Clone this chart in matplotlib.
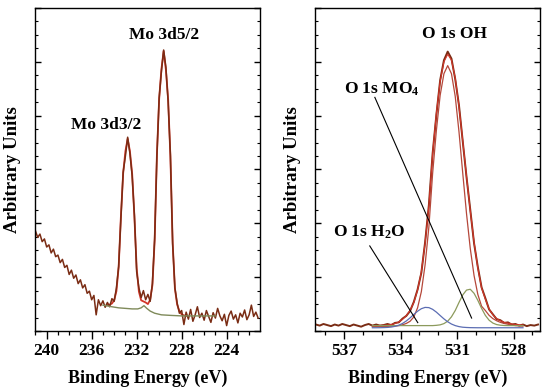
import numpy as np
import matplotlib
matplotlib.use("Agg")
import matplotlib.pyplot as plt
from matplotlib.ticker import MultipleLocator

plt.rcParams['font.family'] = ['Liberation Serif', 'DejaVu Serif']
plt.rcParams['font.weight'] = 'bold'
plt.rcParams['mathtext.default'] = 'regular'

# ---- Mo 3d spectrum (left panel) ----
mo_energy = np.round(np.arange(241.0, 221.1, -0.2), 1)
mo_counts = [1.86, 1.74, 1.80, 1.66, 1.71, 1.56, 1.60, 1.45, 1.52, 1.38,
             1.41, 1.27, 1.33, 1.18, 1.22, 1.05, 1.13, 0.98, 1.04, 0.88,
             0.95, 0.80, 0.86, 0.70, 0.74, 0.58, 0.66, 0.30, 0.58, 0.47,
             0.56, 0.44, 0.53, 0.45, 0.60, 0.55, 0.80, 1.20, 2.10, 2.95,
             3.25, 3.60, 3.30, 2.88, 2.15, 1.10, 0.80, 0.62, 0.75, 0.58,
             0.68, 0.55, 0.88, 1.72, 3.25, 4.33, 4.82, 5.22, 4.90, 4.25,
             3.27, 1.62, 0.80, 0.52, 0.33, 0.38, 0.12, 0.35, 0.22, 0.40,
             0.18, 0.30, 0.45, 0.25, 0.33, 0.20, 0.38, 0.27, 0.16, 0.34,
             0.24, 0.42, 0.28, 0.19, 0.31, 0.10, 0.29, 0.37, 0.22, 0.30,
             0.15, 0.33, 0.26, 0.39, 0.21, 0.30, 0.48, 0.27, 0.35, 0.24]

mo_fit_energy = np.round(np.arange(234.6, 227.5, -0.2), 1)
mo_fit = [0.48, 0.49, 0.51, 0.57, 0.74, 1.19, 2.13, 2.93, 3.34, 3.57,
          3.34, 2.92, 2.12, 1.17, 0.73, 0.57, 0.55, 0.53, 0.50, 0.58,
          0.85, 1.68, 3.27, 4.31, 4.86, 5.20, 4.85, 4.30, 3.24, 1.64,
          0.79, 0.49, 0.37, 0.31, 0.29, 0.28]

mo_bg_energy = [235.0, 234.2, 233.6, 233.0, 232.4, 231.9, 231.6, 231.35,
                231.1, 230.8, 230.4, 229.8, 229.0, 228.0, 226.0, 225.0]
mo_bg = [0.48, 0.45, 0.43, 0.42, 0.41, 0.41, 0.43, 0.47,
         0.42, 0.37, 0.33, 0.30, 0.29, 0.28, 0.28, 0.28]

# ---- O 1s spectrum (right panel) ----
o_energy = np.round(np.arange(538.5, 526.6, -0.2), 1)
o_counts = [0.12, 0.10, 0.13, 0.11, 0.09, 0.12, 0.10, 0.13, 0.11, 0.09,
            0.12, 0.10, 0.08, 0.11, 0.13, 0.10, 0.12, 0.10, 0.11, 0.13,
            0.11, 0.15, 0.16, 0.23, 0.28, 0.37, 0.54, 0.77, 1.08, 1.65,
            2.34, 3.30, 4.02, 4.66, 5.03, 5.19, 5.06, 4.68, 4.19, 3.52,
            2.86, 2.25, 1.63, 1.19, 0.81, 0.61, 0.40, 0.31, 0.22, 0.20,
            0.15, 0.16, 0.12, 0.13, 0.10, 0.12, 0.09, 0.11, 0.10, 0.12]

o_comp_energy = np.round(np.arange(535.5, 527.4, -0.2), 1)
o_fit = [0.10, 0.101, 0.103, 0.106, 0.111, 0.121, 0.138, 0.167, 0.215, 0.286,
         0.383, 0.527, 0.76, 1.10, 1.63, 2.32, 3.29, 4.05, 4.64, 5.00,
         5.14, 5.03, 4.70, 4.17, 3.53, 2.87, 2.23, 1.65, 1.17, 0.80,
         0.59, 0.41, 0.30, 0.23, 0.19, 0.16, 0.145, 0.13, 0.12, 0.115, 0.11]
o_oh = [0.08, 0.081, 0.082, 0.083, 0.085, 0.088, 0.092, 0.10, 0.115, 0.14,
        0.18, 0.26, 0.43, 0.73, 1.23, 1.93, 2.93, 3.73, 4.38, 4.78,
        4.93, 4.78, 4.36, 3.70, 2.93, 2.18, 1.53, 1.03, 0.68, 0.46,
        0.38, 0.29, 0.23, 0.19, 0.16, 0.14, 0.125, 0.11, 0.10, 0.095, 0.09]
o_mo4 = [0.10, 0.10, 0.10, 0.10, 0.10, 0.10, 0.10, 0.10, 0.10, 0.10,
         0.10, 0.10, 0.10, 0.10, 0.10, 0.10, 0.10, 0.105, 0.114, 0.137,
         0.182, 0.263, 0.38, 0.53, 0.67, 0.76, 0.775, 0.70, 0.57, 0.42,
         0.29, 0.20, 0.147, 0.119, 0.107, 0.102, 0.10, 0.10, 0.10, 0.10, 0.10]
o_h2o = [0.06, 0.06, 0.061, 0.063, 0.066, 0.073, 0.086, 0.107, 0.14, 0.186,
         0.243, 0.307, 0.367, 0.414, 0.438, 0.434, 0.402, 0.35, 0.287, 0.225,
         0.171, 0.129, 0.10, 0.081, 0.07, 0.065, 0.062, 0.061, 0.06, 0.06,
         0.06, 0.06, 0.06, 0.06, 0.06, 0.06, 0.06, 0.06, 0.06, 0.06, 0.06]

DATA_C = '#7a2c14'
FIT_C = '#d2362a'

fig = plt.figure(figsize=(5.5, 3.91), dpi=100)
ax1 = fig.add_axes([0.0636, 0.1535, 0.409, 0.826])
ax2 = fig.add_axes([0.5727, 0.1535, 0.409, 0.826])


def style_axis(ax, xlim, major, minor):
    ax.set_xlim(*xlim)
    ax.set_ylim(0, 6)
    ax.xaxis.set_major_locator(MultipleLocator(major))
    ax.xaxis.set_minor_locator(MultipleLocator(minor))
    ax.yaxis.set_major_locator(MultipleLocator(1))
    ax.yaxis.set_minor_locator(MultipleLocator(0.25))
    ax.tick_params(axis='x', which='major', direction='out', length=5.5,
                   width=1, labelsize=12.5, pad=3, top=False)
    ax.tick_params(axis='x', which='minor', direction='out', length=3,
                   width=0.9, top=False)
    ax.tick_params(axis='y', which='major', direction='in', length=4.5,
                   width=1, left=True, right=True, labelleft=False)
    ax.tick_params(axis='y', which='minor', direction='in', length=2.5,
                   width=0.8, left=True, right=True)
    for s in ax.spines.values():
        s.set_linewidth(1)
    ax.set_xlabel('Binding Energy (eV)', fontsize=13, fontweight='bold')
    ax.set_ylabel('Arbitrary Units', fontsize=13.5, fontweight='bold')
    ax.xaxis.set_label_coords(0.5, -0.12)
    ax.yaxis.set_label_coords(-0.06, 0.5)


# left panel
ax1.plot(mo_fit_energy, mo_fit, color=FIT_C, lw=1.3)
ax1.plot(mo_energy, mo_counts, color=DATA_C, lw=1.1)
ax1.plot(mo_bg_energy, mo_bg, color='#7f8a5a', lw=1.0)
style_axis(ax1, (241.04, 221.04), 4, 1)
ax1.text(229.53, 5.49, 'Mo 3d5/2', ha='center', va='center', fontsize=12.5,
         fontweight='bold')
ax1.text(234.73, 3.82, 'Mo 3d3/2', ha='center', va='center', fontsize=12.5,
         fontweight='bold')

# right panel
ax2.plot(o_energy, o_counts, color=DATA_C, lw=1.4)
ax2.plot(o_comp_energy, o_fit, color=FIT_C, lw=0.8)
ax2.plot(o_comp_energy, o_oh, color='#b5473a', lw=0.9)
ax2.plot(o_comp_energy, o_mo4, color='#8c9a5c', lw=0.9)
ax2.plot(o_comp_energy, o_h2o, color='#5b6db3', lw=0.9)
style_axis(ax2, (538.55, 526.6), 3, 1)
ax2.text(531.13, 5.51, 'O 1s OH', ha='center', va='center', fontsize=12.5,
         fontweight='bold')
ax2.text(535.03, 4.49, 'O 1s MO$_4$', ha='center', va='center', fontsize=12.5,
         fontweight='bold')
ax2.text(535.64, 1.84, 'O 1s H$_2$O', ha='center', va='center', fontsize=12.5,
         fontweight='bold')
ax2.plot([535.37, 530.23], [4.34, 0.24], color='black', lw=0.8)
ax2.plot([535.64, 533.09], [1.58, 0.155], color='black', lw=0.8)

fig.savefig('out.png', dpi=100)
